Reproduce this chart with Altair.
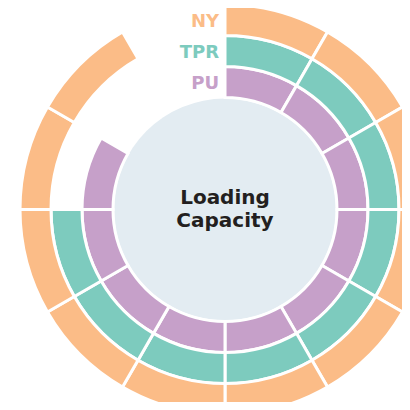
import altair as alt
import pandas as pd
import math

# ring names (inner to outer), filled segments out of 12, colours
rings = ["PU", "TPR", "NY"]
filled = [10, 9, 11]
total_segments = 12
ring_colors = ["#C6A0C9", "#7DCBBE", "#FBBC87"]
center_lines = ["Loading", "Capacity"]

rows = []
for i, (name, n) in enumerate(zip(rings, filled)):
    for s in range(n):
        rows.append({"ring": name, "pos": i, "pos2": i + 1, "seg": s, "seg2": s + 1})
seg_df = pd.DataFrame(rows)

lab_df = pd.DataFrame({"ring": rings, "mid": [i + 0.5 for i in range(len(rings))], "t": [0] * len(rings)})

theta_scale = alt.Scale(domain=[0, total_segments], range=[0, 2 * math.pi])
radius_scale = alt.Scale(type="linear", domain=[0, 3], range=[112, 205], zero=False)
color_scale = alt.Scale(domain=rings, range=ring_colors)

center = alt.Chart(pd.DataFrame({"a": [0]})).mark_arc(
    color="#E3ECF2", radius=111, radius2=0
).encode(theta=alt.value(0), theta2=alt.value(2 * math.pi))

arcs = alt.Chart(seg_df).mark_arc(stroke="white", strokeWidth=3).encode(
    theta=alt.Theta("seg:Q", scale=theta_scale),
    theta2="seg2:Q",
    radius=alt.Radius("pos:Q", scale=radius_scale),
    radius2="pos2:Q",
    color=alt.Color("ring:N", scale=color_scale, legend=None),
)

labels = alt.Chart(lab_df).mark_text(
    font="DejaVu Sans", fontWeight="bold", fontSize=18, align="right", baseline="middle", dx=-6, dy=2
).encode(
    theta=alt.Theta("t:Q", scale=theta_scale),
    radius=alt.Radius("mid:Q", scale=radius_scale),
    text="ring:N",
    color=alt.Color("ring:N", scale=color_scale, legend=None),
)

title = alt.Chart(pd.DataFrame({"txt": [center_lines]})).mark_text(
    font="DejaVu Sans", fontWeight="bold", fontSize=20, align="center", baseline="middle",
    lineHeight=23, color="#231F20"
).encode(x=alt.value(177), y=alt.value(181), text="txt")

chart = alt.layer(center, arcs, labels, title).properties(
    width=354, height=385,
    autosize=alt.AutoSizeParams(type="none"),
    padding={"left": 40, "top": 9, "right": 0, "bottom": 0},
).configure_view(stroke=None)

chart.save("out.html", embed_options={"renderer": "svg", "actions": False})
